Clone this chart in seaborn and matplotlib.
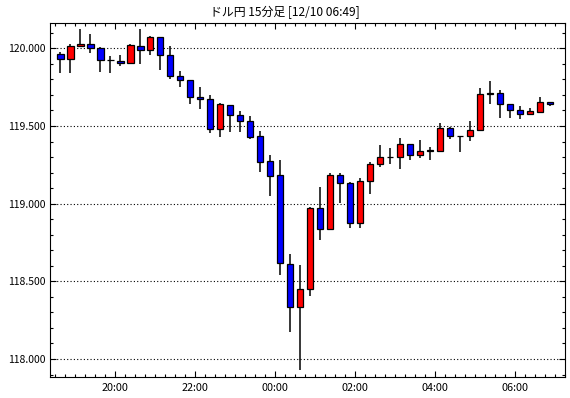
import numpy as np
import pandas as pd
import matplotlib
matplotlib.use('Agg')
import matplotlib.pyplot as plt
import matplotlib.dates as mdates
from matplotlib.ticker import MultipleLocator, FormatStrFormatter
import seaborn as sns

sns.set_style('ticks')
plt.rcParams['font.family'] = ['Noto Sans CJK JP', 'DejaVu Sans']

# USD/JPY 15-minute candles, 18:30 -> 06:45
start = '2015-12-09 18:30'
opens = [119.966, 119.934, 120.017, 120.030, 120.004, 119.928, 119.921, 119.906, 120.017, 119.989,
         120.071, 119.960, 119.825, 119.793, 119.684, 119.671, 119.479, 119.633, 119.569, 119.530,
         119.434, 119.274, 119.184, 118.613, 118.335, 118.453, 118.972, 118.838, 119.184, 119.133,
         118.876, 119.145, 119.254, 119.299, 119.299, 119.383, 119.312, 119.338, 119.342, 119.485,
         119.436, 119.434, 119.472, 119.703, 119.710, 119.639, 119.601, 119.575, 119.592, 119.652]
highs = [119.976, 120.030, 120.122, 120.090, 120.011, 119.949, 119.955, 120.026, 120.122, 120.079,
         120.071, 120.013, 119.853, 119.793, 119.750, 119.697, 119.647, 119.633, 119.598, 119.564,
         119.468, 119.316, 119.282, 118.673, 118.603, 118.979, 119.109, 119.199, 119.199, 119.141,
         119.167, 119.271, 119.380, 119.359, 119.423, 119.383, 119.410, 119.365, 119.519, 119.496,
         119.436, 119.532, 119.742, 119.787, 119.731, 119.639, 119.626, 119.613, 119.686, 119.652]
lows = [119.838, 119.844, 120.013, 119.972, 119.848, 119.842, 119.887, 119.896, 119.896, 119.960,
        119.863, 119.803, 119.752, 119.643, 119.611, 119.457, 119.431, 119.463, 119.463, 119.415,
        119.201, 119.047, 118.540, 118.175, 117.928, 118.406, 118.765, 118.838, 119.004, 118.842,
        118.842, 119.062, 119.239, 119.258, 119.220, 119.282, 119.297, 119.282, 119.335, 119.415,
        119.331, 119.406, 119.472, 119.643, 119.553, 119.553, 119.545, 119.575, 119.592, 119.630]
closes = [119.934, 120.017, 120.030, 120.002, 119.928, 119.928, 119.906, 120.019, 119.989, 120.071,
          119.960, 119.825, 119.793, 119.684, 119.671, 119.479, 119.639, 119.569, 119.530, 119.431,
          119.271, 119.181, 118.617, 118.335, 118.453, 118.972, 118.838, 119.184, 119.133, 118.876,
          119.147, 119.254, 119.299, 119.299, 119.383, 119.312, 119.338, 119.343, 119.485, 119.434,
          119.436, 119.472, 119.703, 119.710, 119.639, 119.601, 119.575, 119.594, 119.652, 119.639]

times = pd.date_range(start, periods=len(opens), freq='15min')
df = pd.DataFrame({'time': times, 'open': opens, 'high': highs, 'low': lows, 'close': closes})
# candles drawn in the middle of their 15 minute slot
df['x'] = mdates.date2num(df['time'] + pd.Timedelta(minutes=7.5))
df['color'] = np.where(df['close'] > df['open'], '#ff0000',
                       np.where(df['close'] < df['open'], '#0000ff', 'black'))

fig = plt.figure(figsize=(5.7, 3.98), dpi=100)
ax = fig.add_axes([49.5 / 570, 21 / 398, (565 - 49.5) / 570, (377 - 23) / 398])

slot = 15 / 1440
ax.vlines(df['x'], df['low'], df['high'], color='black', lw=1.1, zorder=2)
ax.bar(df['x'], df['close'] - df['open'], bottom=df['open'], width=slot * 0.62,
       color=df['color'], edgecolor='black', linewidth=0.9, zorder=3)

ax.set_xlim(mdates.date2num(pd.Timestamp('2015-12-09 18:21')),
            mdates.date2num(pd.Timestamp('2015-12-10 07:15')))
ax.set_ylim(117.884, 120.163)

ax.xaxis.set_major_locator(mdates.HourLocator(byhour=range(0, 24, 2)))
ax.xaxis.set_minor_locator(mdates.MinuteLocator(byminute=[0, 15, 30, 45]))
ax.xaxis.set_major_formatter(mdates.DateFormatter('%H:%M'))
ax.yaxis.set_major_locator(MultipleLocator(0.5))
ax.yaxis.set_minor_locator(MultipleLocator(0.1))
ax.yaxis.set_major_formatter(FormatStrFormatter('%.3f'))

ax.grid(axis='y', which='major', color='black', linestyle=(0, (1, 2)), linewidth=0.8)
ax.tick_params(which='both', direction='in', top=True, right=True, colors='black',
               labelsize=7.5, width=0.8)
ax.tick_params(which='major', length=4, pad=3)
ax.tick_params(which='minor', length=2)
ax.tick_params(axis='x', labelsize=7.8, pad=4)
for s in ax.spines.values():
    s.set_color('black')
    s.set_linewidth(0.8)

fig.text(0.5, 1 - 12 / 398, 'ドル円 15分足 [12/10 06:49]', ha='center', va='center',
         fontsize=8.6, color='black')

fig.savefig('out.png', dpi=100, facecolor='white')
